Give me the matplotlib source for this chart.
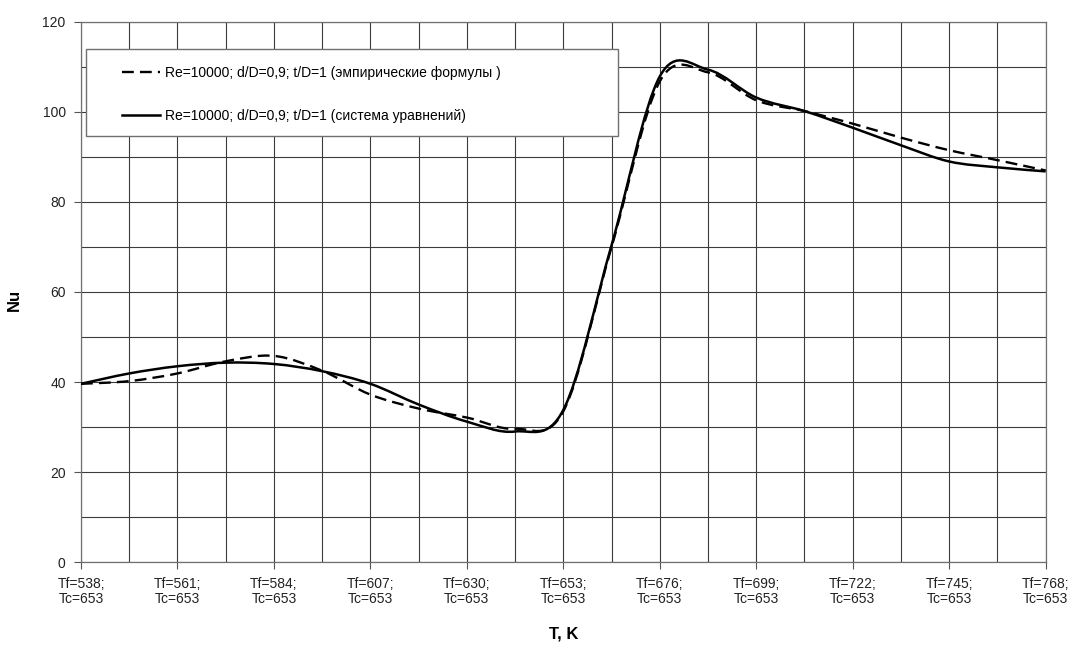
import matplotlib
matplotlib.use('Agg')
import matplotlib.pyplot as plt
from matplotlib.path import Path
from matplotlib.patches import PathPatch, Rectangle
from matplotlib.lines import Line2D

plt.rc('font', family='Liberation Sans')

# температура теплоносителя Tf, шаг 11.5 K (Tc = 653 K)
tf = [538, 549.5, 561, 572.5, 584, 595.5, 607, 618.5, 630, 641.5, 653,
      664.5, 676, 687.5, 699, 710.5, 722, 733.5, 745, 756.5, 768]

nu_empir = [39.6, 40.2, 41.9, 44.6, 45.8, 42.5, 37.2, 34.1, 32.1, 29.6, 33.5,
            70.0, 106.8, 108.8, 102.6, 100.2, 97.4, 94.3, 91.5, 89.3, 87.0]
nu_system = [39.6, 41.9, 43.5, 44.3, 44.0, 42.4, 39.6, 35.0, 31.2, 29.0, 33.8,
             70.4, 107.9, 109.4, 103.2, 100.2, 96.5, 92.6, 89.0, 87.7, 86.8]

tick_tf = [538, 561, 584, 607, 630, 653, 676, 699, 722, 745, 768]
tc = 653

label_empir = 'Re=10000; d/D=0,9; t/D=1 (эмпирические формулы )'
label_system = 'Re=10000; d/D=0,9; t/D=1 (система уравнений)'


def smooth_path(xs, ys):
    # сглаженная линия как в Excel: кубические Безье по схеме Катмулла-Рома
    pts = list(zip(xs, ys))
    n = len(pts)
    verts = [pts[0]]
    codes = [Path.MOVETO]
    for i in range(n - 1):
        p0 = pts[i - 1] if i > 0 else pts[i]
        p1 = pts[i]
        p2 = pts[i + 1]
        p3 = pts[i + 2] if i + 2 < n else pts[i + 1]
        c1 = (p1[0] + (p2[0] - p0[0]) / 6, p1[1] + (p2[1] - p0[1]) / 6)
        c2 = (p2[0] - (p3[0] - p1[0]) / 6, p2[1] - (p3[1] - p1[1]) / 6)
        verts += [c1, c2, p2]
        codes += [Path.CURVE4] * 3
    return Path(verts, codes)


fig = plt.figure(figsize=(10.73, 6.46), dpi=100)
ax = fig.add_axes([0.0755, 0.13, 0.899, 0.836])

dash = (0, (5, 2.6))
ax.add_patch(PathPatch(smooth_path(tf, nu_empir), fill=False, color='black',
                       lw=1.7, linestyle=dash, zorder=4))
ax.add_patch(PathPatch(smooth_path(tf, nu_system), fill=False, color='black',
                       lw=1.8, zorder=5))

ax.set_xlim(538, 768)
ax.set_ylim(0, 120)

ax.set_xticks(tick_tf)
ax.set_xticklabels(['Tf=%d;\nTc=%d' % (t, tc) for t in tick_tf], fontsize=10,
                   color='#222222', linespacing=1.05)
ax.set_xticks(tf, minor=True)
ax.set_yticks(range(0, 121, 20))
ax.set_yticks(range(0, 121, 10), minor=True)
ax.tick_params(axis='both', which='major', length=5, width=0.8,
               color='#555555', direction='out', labelsize=10,
               labelcolor='#222222')
ax.tick_params(axis='x', which='major', pad=6)
ax.tick_params(axis='y', which='major', pad=6)
ax.tick_params(which='minor', length=0)

ax.grid(True, which='both', color='#3c3c3c', linewidth=0.8)
ax.set_axisbelow(True)
for s in ax.spines.values():
    s.set_color('#707070')
    s.set_linewidth(0.9)

ax.set_xlabel('T, K', fontsize=12, fontweight='bold')
ax.set_ylabel('Nu', fontsize=12, fontweight='bold')
ax.xaxis.set_label_coords(0.5, -0.12)
ax.yaxis.set_label_coords(-0.061, 0.485)

# рамка легенды
ax.add_patch(Rectangle((0.005, 0.788), 0.552, 0.162, transform=ax.transAxes,
                       facecolor='white', edgecolor='#707070', lw=1.0,
                       zorder=3))
handles = [Line2D([], [], color='black', lw=1.7, linestyle=dash),
           Line2D([], [], color='black', lw=1.8)]
ax.legend(handles, [label_empir, label_system], loc='upper left',
          bbox_to_anchor=(0.0425, 0.919), frameon=False, fontsize=10,
          handlelength=2.75, handletextpad=0.35, labelspacing=2.1,
          borderpad=0.0, borderaxespad=0.0)

plt.savefig('out.png', dpi=100)
